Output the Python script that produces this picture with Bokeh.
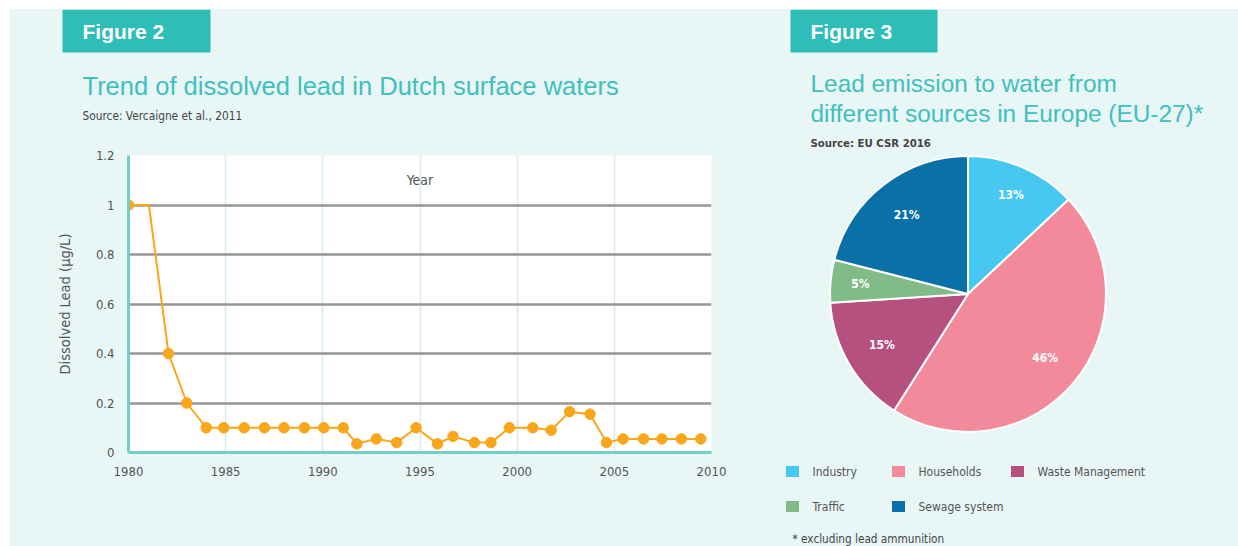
import math
from bokeh.plotting import figure
from bokeh.layouts import row, column
from bokeh.models import Range1d, FixedTicker, Label, ColumnDataSource
from bokeh.core.properties import value
from bokeh.embed import file_html
from bokeh.resources import INLINE

# ---------------- data ----------------
years = [1980.0, 1981.05, 1982.06, 1983.0, 1984.0, 1984.9, 1985.95, 1987.0, 1988.0,
         1989.05, 1990.05, 1991.05, 1991.75, 1992.75, 1993.8, 1994.8, 1995.9, 1996.7,
         1997.8, 1998.65, 1999.6, 2000.8, 2001.75, 2002.7, 2003.75, 2004.6, 2005.45,
         2006.5, 2007.45, 2008.45, 2009.45]
lead = [1.0, 1.0, 0.40, 0.20, 0.10, 0.10, 0.10, 0.10, 0.10, 0.10, 0.10, 0.10,
        0.035, 0.055, 0.04, 0.10, 0.035, 0.065, 0.04, 0.04, 0.10, 0.10, 0.09,
        0.165, 0.155, 0.04, 0.055, 0.055, 0.055, 0.055, 0.055]
marker_shown = [True, False] + [True] * 29

x_ticks = [1980, 1985, 1990, 1995, 2000, 2005, 2010]
y_ticks = [0, 0.2, 0.4, 0.6, 0.8, 1, 1.2]

sources = ["Industry", "Households", "Waste Management", "Traffic", "Sewage system"]
shares = [13, 46, 15, 5, 21]
colors = ["#46c8f2", "#f28a9b", "#b6517f", "#80bb88", "#0a70a8"]

# ---------------- style ----------------
BG = "#e8f6f6"
TEAL_BOX = "#2fbdb8"
TEAL_TXT = "#40c0be"
ORANGE = "#f9a61a"
NARROW = "'Liberation Sans Narrow', 'DejaVu Sans Condensed', sans-serif"
SANS = "'Liberation Sans', Arial, sans-serif"


def canvas(x0, x1, y0, y1):
    f = figure(width=x1 - x0, height=y1 - y0, x_range=Range1d(x0, x1),
               y_range=Range1d(y1, y0), x_axis_type=None, y_axis_type=None,
               output_backend="svg", toolbar_location=None, min_border=0)
    f.min_border_left = f.min_border_right = f.min_border_top = f.min_border_bottom = 0
    f.outline_line_color = None
    f.background_fill_color = BG
    f.border_fill_color = BG
    f.grid.visible = False
    f.frame_align = False
    return f


def txt(f, x, y, s, size, color, font=SANS, style="normal", align="left"):
    f.text(x=[x], y=[y], text=[s], text_font=value(font), text_font_size=size,
           text_color=color, text_font_style=style, text_baseline="middle",
           text_align=align)


# ---------------- left header ----------------
h = canvas(10, 760, 9, 140)
h.quad(left=[62], right=[210], top=[9], bottom=[52], fill_color=TEAL_BOX, line_color=None)
txt(h, 82, 31, "Figure 2", "21px", "white", style="bold")
txt(h, 82, 85, "Trend of dissolved lead in Dutch surface waters", "25.5px", TEAL_TXT)
txt(h, 82, 115, "Source: Vercaigne et al., 2011", "11.8px", "#444444", font=NARROW)

# ---------------- line chart ----------------
p = figure(width=750, height=406, x_range=Range1d(1980, 2010), y_range=Range1d(0, 1.2),
           output_backend="svg", toolbar_location=None,
           min_border_left=118, min_border_right=49, min_border_top=15, min_border_bottom=94)
p.frame_align = False
p.background_fill_color = "white"
p.border_fill_color = BG
p.outline_line_color = None

p.xaxis.ticker = FixedTicker(ticks=x_ticks)
p.yaxis.ticker = FixedTicker(ticks=y_ticks)
p.yaxis.major_label_overrides = {"0": "0", "1": "1"}
for ax in (p.xaxis, p.yaxis):
    ax.axis_line_color = "#74cfcb"
    ax.axis_line_width = 3
    ax.major_tick_line_color = None
    ax.minor_tick_line_color = None
    ax.major_label_text_font = NARROW
    ax.major_label_text_font_size = "13px"
    ax.major_label_text_color = "#555555"
    ax.major_label_standoff = 8
p.yaxis.axis_label = "Dissolved Lead (µg/L)"
p.yaxis.axis_label_text_font = NARROW
p.yaxis.axis_label_text_font_size = "14.5px"
p.yaxis.axis_label_text_font_style = "normal"
p.yaxis.axis_label_text_color = "#555555"
p.yaxis.axis_label_standoff = 20

p.xgrid.ticker = FixedTicker(ticks=x_ticks[1:-1])
p.xgrid.grid_line_color = "#d4eef0"
p.xgrid.grid_line_width = 1.5
p.ygrid.ticker = FixedTicker(ticks=y_ticks[1:-1])
p.ygrid.grid_line_color = "#979797"
p.ygrid.grid_line_width = 2.5

p.line(years, lead, line_color=ORANGE, line_width=2)
mx = [x for x, s in zip(years, marker_shown) if s]
my = [y for y, s in zip(lead, marker_shown) if s]
p.scatter(mx, my, size=10.5, fill_color=ORANGE, line_color=ORANGE)
p.add_layout(Label(x=1995, y=1.1, text="Year", text_align="center", text_baseline="middle",
                   text_font=NARROW, text_font_size="14px", text_color="#555555"))

left = column(h, p, spacing=0)
left.styles = {"background-color": BG}

# ---------------- right: pie ----------------
r = canvas(760, 1238, 9, 546)
r.quad(left=[790], right=[937], top=[9], bottom=[52], fill_color=TEAL_BOX, line_color=None)
txt(r, 810, 31, "Figure 3", "21px", "white", style="bold")
txt(r, 810, 83, "Lead emission to water from", "24.4px", TEAL_TXT)
txt(r, 810, 113, "different sources in Europe (EU-27)*", "24.4px", TEAL_TXT)
txt(r, 810, 143, "Source: EU CSR 2016", "11.3px", "#444444", font=NARROW, style="bold")

cx, cy, R = 967.5, 293.5, 138
total = float(sum(shares))
starts, ends, lx, ly = [], [], [], []
acc = 0.0
for s in shares:
    a0 = math.pi / 2 - 2 * math.pi * acc / total
    a1 = math.pi / 2 - 2 * math.pi * (acc + s) / total
    starts.append(a0)
    ends.append(a1)
    mid = (a0 + a1) / 2
    lr = 100 if s > 14 else 108
    lx.append(cx + lr * math.cos(mid))
    ly.append(cy - lr * math.sin(mid))
    acc += s
src = ColumnDataSource(dict(start=starts, end=ends, color=colors, lx=lx, ly=ly,
                            lab=[f"{s}%" for s in shares]))
r.wedge(x=cx, y=cy, radius=R, start_angle="start", end_angle="end", direction="clock",
        fill_color="color", line_color="white", line_width=2, source=src)
r.text(x="lx", y="ly", text="lab", source=src, text_font=value(NARROW), text_font_size="12px",
       text_font_style="bold", text_color="white", text_align="center", text_baseline="middle")

# legend
leg_x = [792, 898, 1017, 792, 898]
leg_y = [471, 471, 471, 506, 506]
lsrc = ColumnDataSource(dict(x=leg_x, y=leg_y, tx=[x + 20 for x in leg_x], color=colors, name=sources))
r.rect(x="x", y="y", width=13, height=11, source=lsrc, fill_color="color", line_color=None)
r.text(x="tx", y="y", text="name", source=lsrc, text_font=value(NARROW), text_font_size="12px",
       text_color="#555555", text_baseline="middle")
txt(r, 792, 538, "* excluding lead ammunition", "11.7px", "#444444", font=NARROW)

layout = row(left, r, spacing=0, margin=(9, 0, 0, 10))
layout.styles = {"background-color": BG}

open("out.html", "w").write(file_html(layout, INLINE))
